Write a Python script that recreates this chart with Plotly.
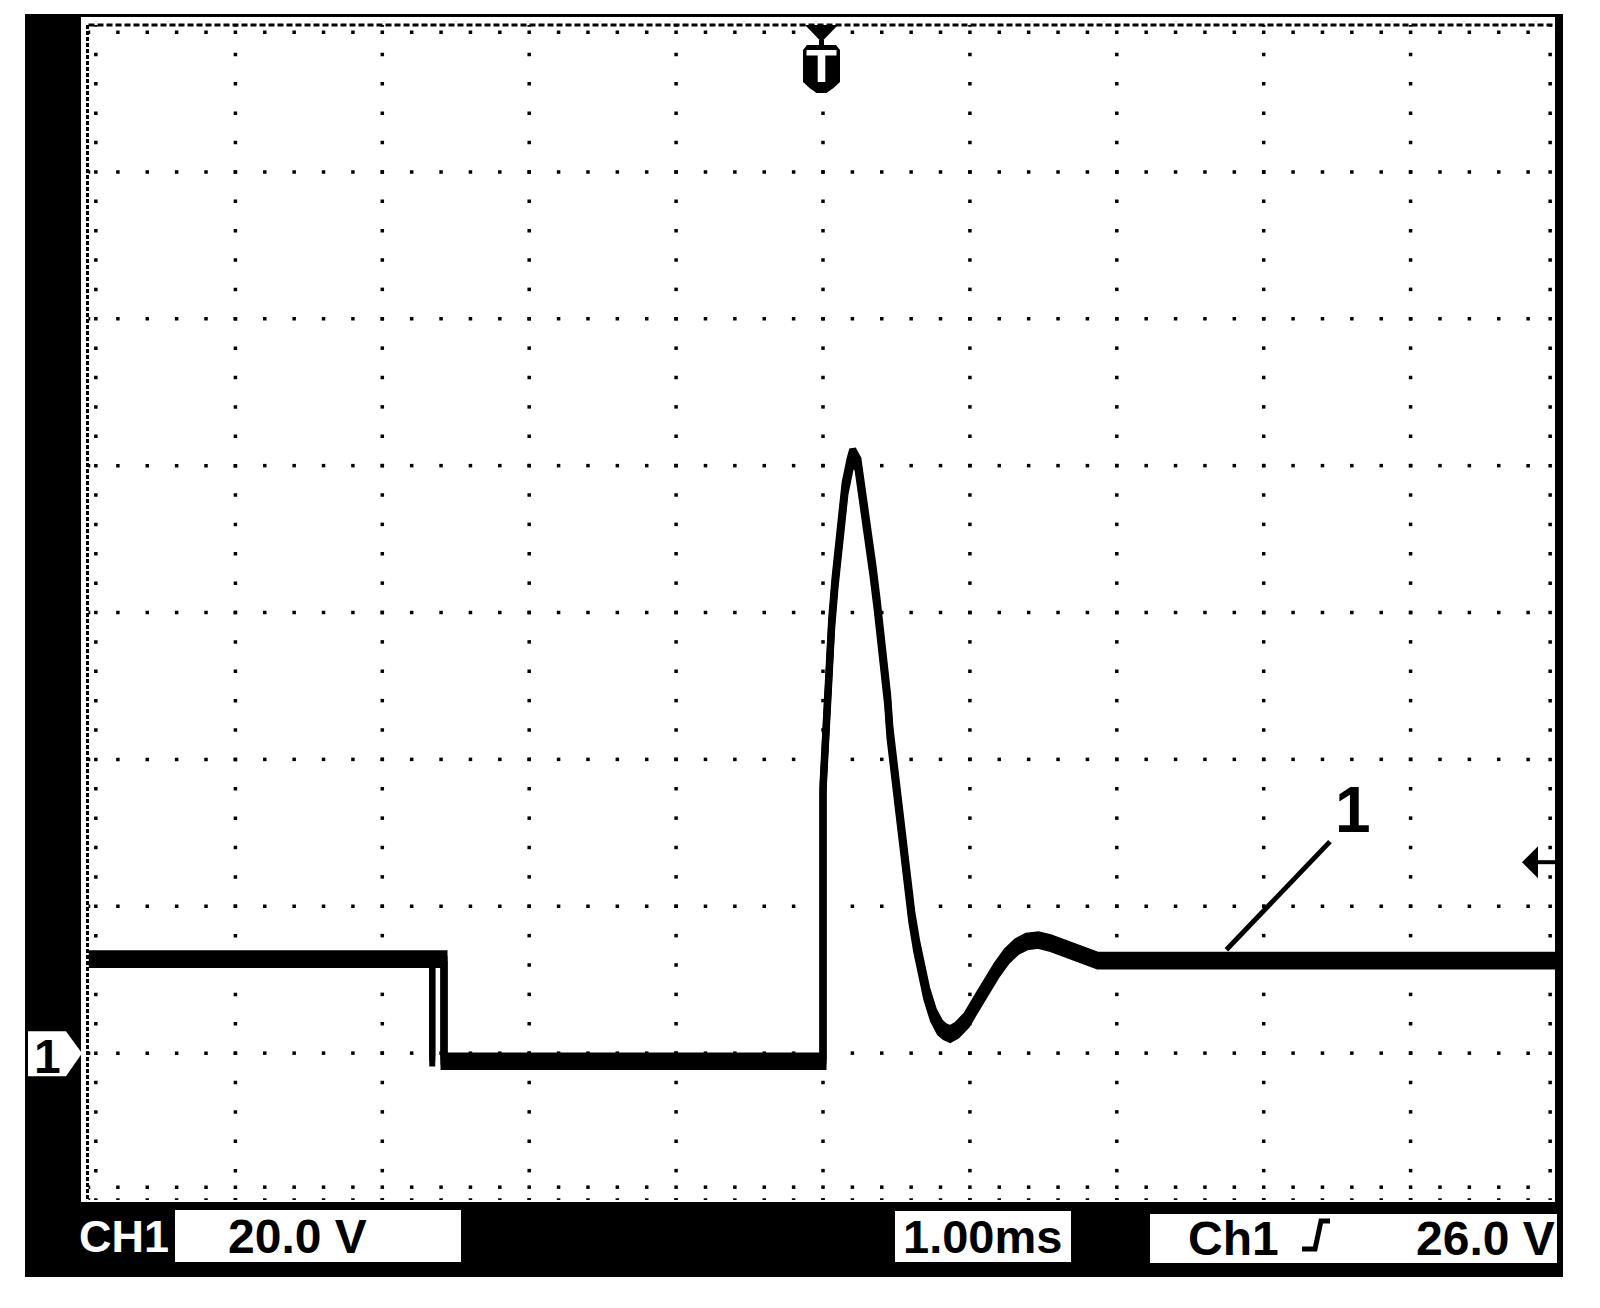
import numpy as np
import plotly.graph_objects as go

# ---------------- data ----------------
# time in ms (1.00 ms/div, trigger at 0), voltage in V (20.0 V/div, ground = 0 V)
time_ms = [-5.0, -2.58, -2.58, 0.0, 0.0, 0.014, 0.034, 0.059, 0.082, 0.116,
           0.150, 0.184, 0.202, 0.238, 0.272, 0.306, 0.340, 0.368, 0.391, 0.410,
           0.440, 0.456, 0.479, 0.506, 0.531, 0.558, 0.581, 0.604, 0.638, 0.672,
           0.706, 0.751, 0.796, 0.830, 0.865, 0.910, 0.978, 1.046, 1.114, 1.182,
           1.251, 1.319, 1.387, 1.466, 1.545, 1.636, 1.727, 1.800, 1.870, 5.0]
volts = [12.8, 12.8, -1.1, -1.1, 36.1, 42.3, 51.8, 58.5, 64.1, 71.3,
         76.9, 80.2, 81.5, 80.2, 75.8, 70.7, 65.7, 61.2, 57.2, 52.6,
         48.1, 43.6, 39.9, 34.5, 30.0, 25.4, 21.9, 18.6, 14.5, 11.0,
         8.1, 5.2, 3.5, 2.9, 2.6, 3.1, 4.5, 6.8, 9.1, 11.3,
         13.2, 14.5, 15.2, 15.4, 15.0, 14.3, 13.5, 12.9, 12.6, 12.6]
# second (overlaid) capture of the falling edge
edge2_time = [-2.66, -2.66]
edge2_volts = [12.8, -1.1]
# leader line and label "1"
pointer_t = [2.746, 3.451]
pointer_v = [14.07, 28.8]
label_t, label_v, label_text = 3.608, 33.1, "1"
trigger_level = 26.0
trigger_time = 0.0
ch_label, volts_div = "CH1", "20.0 V"
time_div = "1.00ms"
trig_src, trig_val = "Ch1", "26.0 V"

# ---------------- geometry ----------------
W, H = 1600, 1308
OFF = 8.0  # page body margin of the html page
L, R, T, B = 88.5, 1557.5, 25.0, 1200.0
XR = [-5, 5]
YR = [-20, 140]


def X(px):
    return (px - OFF) / W


def Y(py):
    return 1 - (py - OFF) / H


def py_of_v(v):
    return T + (YR[1] - v) / (YR[1] - YR[0]) * (B - T)


def px_of_t(t):
    return L + (t - XR[0]) / (XR[1] - XR[0]) * (R - L)


def path(points, close=True):
    s = "M " + " L ".join(f"{X(x):.5f},{Y(y):.5f}" for x, y in points)
    return s + (" Z" if close else "")


fig = go.Figure()

# ---------------- graticule dots ----------------
gx, gy = [], []
tt = np.round(np.arange(-5, 5.0001, 0.2), 6)
vv = np.round(np.arange(-20, 140.0001, 4), 6)
for k in range(1, 8):
    lv = -20 + 20 * k
    gx += list(tt)
    gy += [lv] * len(tt)
for k in range(-4, 5):
    gx += [k] * len(vv)
    gy += list(vv)
# bottom and right edge dots (two rows)
for off in (0.0, 1.75):
    gx += list(tt)
    gy += [-20 + off] * len(tt)
for off in (0.0, 0.05):
    gx += [5 - off] * len(vv)
    gy += list(vv)
# left / top edge longer ticks
gx += [-5 + 0.05] * len(vv)
gy += list(vv)
gx += list(tt)
gy += [140 - 1.0] * len(tt)

fig.add_trace(go.Scatter(x=gx, y=gy, mode="markers",
                         marker=dict(symbol="square", size=3.5, color="black", line_width=0),
                         hoverinfo="skip", showlegend=False))

# ---------------- waveform (thick noisy band) ----------------
band = 0.72
for d in (-band, 0.0, band):
    fig.add_trace(go.Scatter(x=time_ms, y=[v + d for v in volts], mode="lines",
                             line=dict(color="black", width=7), hoverinfo="skip",
                             showlegend=False))
    fig.add_trace(go.Scatter(x=edge2_time, y=[v + d for v in edge2_volts], mode="lines",
                             line=dict(color="black", width=6), hoverinfo="skip",
                             showlegend=False))

# leader line
fig.add_trace(go.Scatter(x=pointer_t, y=pointer_v, mode="lines",
                         line=dict(color="black", width=5), hoverinfo="skip",
                         showlegend=False))

shapes = []
# dense dashed edges (top / left)
shapes.append(dict(type="line", xref="paper", yref="paper", x0=X(L), x1=X(R), y0=Y(T), y1=Y(T),
                   line=dict(color="black", width=3, dash="6px,3px")))
shapes.append(dict(type="line", xref="paper", yref="paper", x0=X(L - 1), x1=X(L - 1), y0=Y(T), y1=Y(B),
                   line=dict(color="black", width=3, dash="4px,2px")))


def rect(x0, y0, x1, y1, color="black"):
    shapes.append(dict(type="rect", xref="paper", yref="paper", x0=X(x0), x1=X(x1),
                       y0=Y(y0), y1=Y(y1), fillcolor=color, line_width=0, layer="above"))


# black frame
rect(25, 14, 1563, 17)
rect(25, 14, 81, 1277)
rect(1555, 14, 1563, 1277)
rect(25, 1202, 1563, 1277)
# white readout boxes
rect(175, 1210, 461, 1262, "white")
rect(895, 1211, 1071, 1262, "white")
rect(1150, 1214, 1557, 1263, "white")

# trigger slope symbol
shapes.append(dict(type="path", xref="paper", yref="paper", layer="above",
                   path=path([(1302, 1249), (1315, 1249), (1321, 1221), (1330, 1221)], close=False),
                   line=dict(color="black", width=5)))

# trigger position marker "T" at top
cx = px_of_t(trigger_time) - 1.5
shapes.append(dict(type="path", xref="paper", yref="paper", layer="above",
                   path=path([(cx - 16.5, 25), (cx + 16.5, 25), (cx, 42)]),
                   fillcolor="black", line_width=0))
rect(cx - 2.5, 40, cx + 2.5, 46)
shapes.append(dict(type="path", xref="paper", yref="paper", layer="above",
                   path=path([(cx - 18.5, 50), (cx - 14.5, 45), (cx + 14.5, 45), (cx + 18.5, 50),
                              (cx + 18.5, 82), (cx + 12, 88), (cx + 5, 93), (cx - 5, 93),
                              (cx - 12, 88), (cx - 18.5, 82)]),
                   fillcolor="black", line_width=0))
rect(cx - 15, 50, cx + 15, 55.5, "white")
rect(cx - 3.8, 55, cx + 3.8, 82, "white")

# trigger level arrow (right)
ty = py_of_v(trigger_level)
shapes.append(dict(type="path", xref="paper", yref="paper", layer="above",
                   path=path([(1522, ty), (1538, ty - 16), (1538, ty + 16)]),
                   fillcolor="black", line_width=0))
rect(1537, ty - 2, 1556, ty + 2)

# ground marker "1" (left)
gyp = py_of_v(0.0)
shapes.append(dict(type="path", xref="paper", yref="paper", layer="above",
                   path=path([(28, gyp - 22), (66, gyp - 22), (82, gyp), (66, gyp + 23), (28, gyp + 23)]),
                   fillcolor="white", line_width=0))

font = "Liberation Sans, Arial, sans-serif"
ann = []


def text(t, x, y, size, color="black", xanchor="left"):
    ann.append(dict(xref="paper", yref="paper", x=X(x), y=Y(y), text=t, showarrow=False,
                    xanchor=xanchor, yanchor="middle",
                    font=dict(family=font, size=size, color=color)))


text(f"<b>{ch_label}</b>", 77, 1236, 45, "white")
text(f"<b>{volts_div}</b>", 226, 1236, 48)
text(f"<b>{time_div}</b>", 901, 1236, 47)
text(f"<b>{trig_src}</b>", 1186, 1238, 48)
text(f"<b>{trig_val}</b>", 1557, 1238, 48, xanchor="right")
text("<b>1</b>", 47, gyp + 3, 48, xanchor="center")
ann.append(dict(x=label_t, y=label_v, xref="x", yref="y", text=f"<b>{label_text}</b>",
                showarrow=False, xanchor="center", yanchor="middle",
                font=dict(family=font, size=64, color="black")))

fig.update_layout(
    width=W, height=H,
    margin=dict(l=0, r=0, t=0, b=0),
    paper_bgcolor="white", plot_bgcolor="white",
    xaxis=dict(domain=[X(L), X(R)], range=XR, showgrid=False, zeroline=False,
               showticklabels=False, showline=False, ticks=""),
    yaxis=dict(domain=[Y(B), Y(T)], range=YR, showgrid=False, zeroline=False,
               showticklabels=False, showline=False, ticks=""),
    shapes=shapes, annotations=ann, showlegend=False,
)

fig.write_html("out.html")
